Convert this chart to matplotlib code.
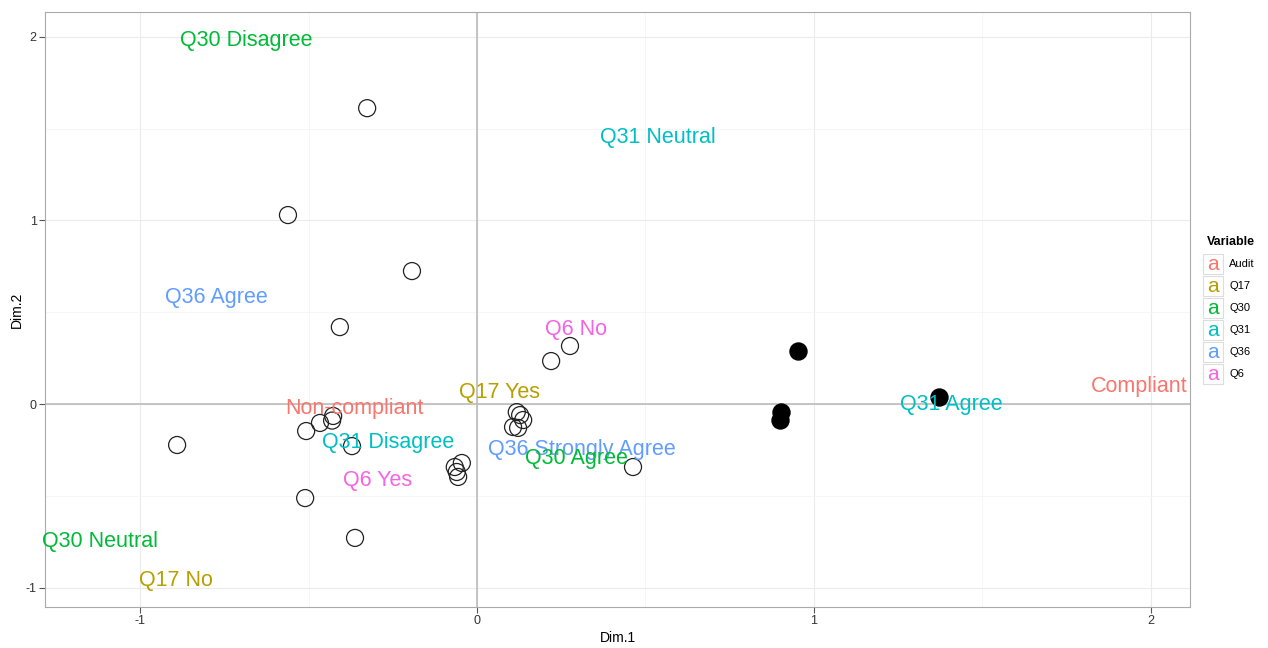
import numpy as np
import matplotlib.pyplot as plt
from matplotlib.patches import Rectangle

plt.rcParams['font.family'] = ['Liberation Sans', 'DejaVu Sans']
plt.rcParams['axes.unicode_minus'] = False

# individuals (open = non-compliant, filled = compliant)
open_x = [-0.326, -0.561, -0.193, -0.407, 0.220, 0.276, -0.890, -0.510, -0.362, 0.463,
          -0.507, -0.466, -0.427, -0.430, -0.371,
          0.118, 0.128, 0.107, 0.137, 0.122,
          -0.066, -0.045, -0.060, -0.056]
open_y = [1.611, 1.029, 0.724, 0.419, 0.234, 0.316, -0.223, -0.512, -0.729, -0.343,
          -0.147, -0.103, -0.065, -0.090, -0.229,
          -0.044, -0.060, -0.125, -0.087, -0.130,
          -0.343, -0.321, -0.370, -0.397]
filled_x = [0.953, 0.902, 0.899, 1.371]
filled_y = [0.289, -0.044, -0.087, 0.038]

# category labels
labels = ['Q30 Disagree', 'Q31 Neutral', 'Q36 Agree', 'Q6 No', 'Q17 Yes', 'Non-compliant',
          'Q31 Disagree', 'Q36 Strongly Agree', 'Q30 Agree', 'Q6 Yes', 'Q30 Neutral',
          'Q17 No', 'Q31 Agree', 'Compliant']
lab_x = [-0.686, 0.537, -0.774, 0.294, 0.068, -0.365, -0.264, 0.312, 0.294, -0.294,
         -1.119, -0.893, 1.409, 1.964]
lab_y = [1.982, 1.453, 0.582, 0.408, 0.065, -0.027, -0.207, -0.245, -0.294, -0.419,
         -0.746, -0.963, -0.005, 0.098]
lab_var = ['Q30', 'Q31', 'Q36', 'Q6', 'Q17', 'Audit', 'Q31', 'Q36', 'Q30', 'Q6', 'Q30',
           'Q17', 'Q31', 'Audit']

variables = ['Audit', 'Q17', 'Q30', 'Q31', 'Q36', 'Q6']
colors = ['#F8766D', '#B79F00', '#00BA38', '#00BFC4', '#619CFF', '#F564E3']
col = dict(zip(variables, colors))

fig = plt.figure(figsize=(12.68, 6.48), dpi=100)
ax = fig.add_axes([0.0355, 0.0633, 0.903, 0.918])

ax.set_xlim(-1.282, 2.116)
ax.set_ylim(-1.105, 2.134)
ax.set_xticks([-1, 0, 1, 2])
ax.set_yticks([-1, 0, 1, 2])
ax.set_xticks([-0.5, 0.5, 1.5], minor=True)
ax.set_yticks([-0.5, 0.5, 1.5], minor=True)
ax.grid(True, which='major', color='#ebebeb', lw=0.8)
ax.grid(True, which='minor', color='#f5f5f5', lw=0.6)
ax.tick_params(which='minor', length=0)
ax.tick_params(which='major', length=4, width=0.8, color='#555555', labelsize=9,
               labelcolor='#333333', pad=2)
for s in ax.spines.values():
    s.set_color('#aaaaaa')
ax.set_axisbelow(True)

ax.axhline(0, color='#bbbbbb', lw=1.2, zorder=1)
ax.axvline(0, color='#bbbbbb', lw=1.2, zorder=1)

ax.scatter(open_x, open_y, s=150, facecolors='none', edgecolors='#222222', lw=0.9, zorder=3)
ax.scatter(filled_x, filled_y, s=150, color='black', zorder=3)

for t, x, y, v in zip(labels, lab_x, lab_y, lab_var):
    ax.text(x, y, t, color=col[v], fontsize=15.5, ha='center', va='center',
            zorder=4, clip_on=False)

ax.set_xlabel('Dim.1', fontsize=10, labelpad=3)
ax.set_ylabel('Dim.2', fontsize=10, labelpad=1)

# legend drawn by hand (ggplot style)
W, H = 1268, 648
fig.text(1207 / W, 1 - 242 / H, 'Variable', fontsize=9, fontweight='bold', va='center')
for i, (v, c) in enumerate(zip(variables, colors)):
    yc = 264 + i * 22
    fig.patches.append(Rectangle((1203 / W, 1 - (yc + 10) / H), 20 / W, 20 / H,
                                 transform=fig.transFigure, facecolor='white',
                                 edgecolor='#dddddd', lw=0.8))
    fig.text(1213 / W, 1 - yc / H, 'a', color=c, fontsize=15, ha='center', va='center')
    fig.text(1229 / W, 1 - yc / H, v, fontsize=8, va='center')

fig.savefig('out.png', dpi=100)
